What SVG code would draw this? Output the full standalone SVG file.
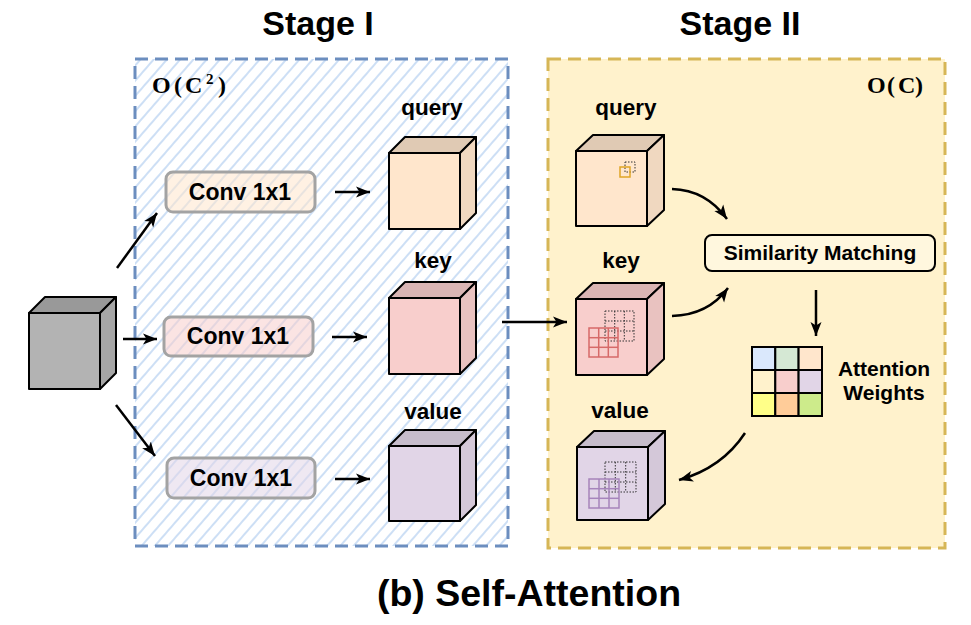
<svg xmlns="http://www.w3.org/2000/svg" width="971" height="625" viewBox="0 0 971 625">
<defs>
<pattern id="hatch" patternUnits="userSpaceOnUse" width="10" height="10" patternTransform="rotate(41)">
<line x1="5" y1="-1" x2="5" y2="11" stroke="#c8dcf4" stroke-width="1.8"/>
</pattern>
<marker id="arr" markerUnits="userSpaceOnUse" markerWidth="16" markerHeight="14" refX="14" refY="7" orient="auto">
<path d="M0,1.5 L14,7 L0,12.5 L3.5,7 Z" fill="#000"/>
</marker>
</defs>
<style>
.t{font-family:"Liberation Sans",Arial,sans-serif;font-weight:bold;fill:#000;text-anchor:middle}
.m{font-family:"Liberation Serif","Times New Roman",serif;font-weight:bold;fill:#000}
.cube{stroke:#000;stroke-width:2;stroke-linejoin:round}
.conv{stroke:#a3a3a3;stroke-width:3;fill-opacity:0.55}
.ln{fill:none;stroke:#000;stroke-width:2.5}
.dot{fill:none;stroke:#333;stroke-width:1;stroke-dasharray:1.5 1.5}
.ag{stroke:#000;stroke-width:2}
</style>

<!-- titles -->
<text class="t" x="318" y="35" font-size="34">Stage I</text>
<text class="t" x="740" y="35" font-size="34">Stage II</text>
<text class="t" x="529" y="606" font-size="37.5">(b) Self-Attention</text>

<!-- Stage I container -->
<g id="stage1">
<rect x="135" y="59" width="373" height="487" fill="#ffffff"/>
<rect x="135" y="59" width="373" height="487" fill="url(#hatch)"/>
<rect x="135" y="59" width="373" height="487" fill="none" stroke="#6c8ebf" stroke-width="3" stroke-dasharray="13 7"/>
<text class="m" font-size="24" y="93"><tspan x="152">O</tspan><tspan x="174">(</tspan><tspan x="185">C</tspan><tspan x="206" y="84" font-size="15">2</tspan><tspan x="218" y="93">)</tspan></text>
</g>

<!-- Stage II container -->
<g id="stage2">
<rect x="548" y="59" width="397" height="489" fill="#fff2cc" stroke="#d6b656" stroke-width="3" stroke-dasharray="13 7"/>
<text class="m" font-size="24" y="93"><tspan x="867">O</tspan><tspan x="887">(</tspan><tspan x="898">C</tspan><tspan x="915">)</tspan></text>
</g>

<!-- input cube -->
<g id="input">
<polygon class="cube" points="29,313 45,297 116,297 100,313" fill="#999999"/>
<polygon class="cube" points="100,313 116,297 116,373 100,389" fill="#a6a6a6"/>
<rect class="cube" x="29" y="313" width="71" height="76" fill="#b3b3b3"/>
</g>

<!-- conv boxes -->
<g id="conv1">
<rect class="conv" x="166" y="172" width="149" height="40" rx="7" fill="#ffe6cc"/>
<text class="t" x="240" y="200" font-size="23">Conv 1x1</text>
</g>
<g id="conv2">
<rect class="conv" x="164" y="317" width="149" height="39" rx="7" fill="#f8cecc"/>
<text class="t" x="238" y="344" font-size="23">Conv 1x1</text>
</g>
<g id="conv3">
<rect class="conv" x="167" y="458" width="148" height="40" rx="7" fill="#e1d5e7"/>
<text class="t" x="241" y="486" font-size="23">Conv 1x1</text>
</g>

<!-- stage I cubes -->
<g id="q1">
<text class="t" x="432" y="115" font-size="22.5">query</text>
<polygon class="cube" points="389,153 405,137 476,137 460,153" fill="#e0cab4"/>
<polygon class="cube" points="460,153 476,137 476,213 460,229" fill="#f0d8c0"/>
<rect class="cube" x="389" y="153" width="71" height="76" fill="#ffe6cc"/>
</g>
<g id="k1">
<text class="t" x="433" y="268" font-size="22.5">key</text>
<polygon class="cube" points="389,298 405,282 476,282 460,298" fill="#dab5b4"/>
<polygon class="cube" points="460,298 476,282 476,358 460,374" fill="#e9c2c0"/>
<rect class="cube" x="389" y="298" width="71" height="76" fill="#f8cecc"/>
</g>
<g id="v1">
<text class="t" x="433" y="419" font-size="22.5">value</text>
<polygon class="cube" points="389,446 405,430 476,430 460,446" fill="#c6bccb"/>
<polygon class="cube" points="460,446 476,430 476,505 460,521" fill="#d4c8d9"/>
<rect class="cube" x="389" y="446" width="71" height="75" fill="#e1d5e7"/>
</g>

<!-- stage II cubes -->
<g id="q2">
<text class="t" x="626" y="115" font-size="22.5">query</text>
<polygon class="cube" points="576,151 593,135 664,135 647,151" fill="#e0cab4"/>
<polygon class="cube" points="647,151 664,135 664,210 647,226" fill="#f0d8c0"/>
<rect class="cube" x="576" y="151" width="71" height="75" fill="#ffe6cc"/>
<rect class="dot" x="625" y="162" width="10" height="10"/>
<rect x="620" y="167" width="10" height="10" fill="none" stroke="#e0a526" stroke-width="1.5"/>
</g>
<g id="k2">
<text class="t" x="621" y="268" font-size="22.5">key</text>
<polygon class="cube" points="576,299 593,283 664,283 647,299" fill="#dab5b4"/>
<polygon class="cube" points="647,299 664,283 664,359 647,375" fill="#e9c2c0"/>
<rect class="cube" x="576" y="299" width="71" height="76" fill="#f8cecc"/>
<g class="dot">
<rect x="605" y="311" width="29" height="30"/>
<line x1="614.7" y1="311" x2="614.7" y2="341"/>
<line x1="624.3" y1="311" x2="624.3" y2="341"/>
<line x1="605" y1="321" x2="634" y2="321"/>
<line x1="605" y1="331" x2="634" y2="331"/>
</g>
<g fill="none" stroke="#d66a68" stroke-width="1.5">
<rect x="589" y="328" width="29" height="29"/>
<line x1="598.7" y1="328" x2="598.7" y2="357"/>
<line x1="608.3" y1="328" x2="608.3" y2="357"/>
<line x1="589" y1="337.7" x2="618" y2="337.7"/>
<line x1="589" y1="347.3" x2="618" y2="347.3"/>
</g>
</g>
<g id="v2">
<text class="t" x="620" y="418" font-size="22.5">value</text>
<polygon class="cube" points="577,447 594,431 665,431 648,447" fill="#c6bccb"/>
<polygon class="cube" points="648,447 665,431 665,504 648,520" fill="#d4c8d9"/>
<rect class="cube" x="577" y="447" width="71" height="73" fill="#e1d5e7"/>
<g class="dot">
<rect x="605" y="462" width="31" height="30"/>
<line x1="615.3" y1="462" x2="615.3" y2="492"/>
<line x1="625.7" y1="462" x2="625.7" y2="492"/>
<line x1="605" y1="472" x2="636" y2="472"/>
<line x1="605" y1="482" x2="636" y2="482"/>
</g>
<g fill="none" stroke="#a684bb" stroke-width="1.5">
<rect x="589" y="479" width="30" height="29"/>
<line x1="599" y1="479" x2="599" y2="508"/>
<line x1="609" y1="479" x2="609" y2="508"/>
<line x1="589" y1="488.7" x2="619" y2="488.7"/>
<line x1="589" y1="498.3" x2="619" y2="498.3"/>
</g>
</g>

<!-- similarity matching -->
<g id="sim">
<rect x="705" y="235" width="230" height="36" rx="7" fill="#fff7de" stroke="#000" stroke-width="2"/>
<text class="t" x="820" y="260" font-size="21">Similarity Matching</text>
</g>

<!-- attention weights -->
<g id="attn">
<rect class="ag" x="752" y="347" width="23.3" height="23" fill="#dae8fc"/>
<rect class="ag" x="775.3" y="347" width="23.3" height="23" fill="#d5e8d4"/>
<rect class="ag" x="798.6" y="347" width="23.4" height="23" fill="#ffe6cc"/>
<rect class="ag" x="752" y="370" width="23.3" height="23" fill="#fff2cc"/>
<rect class="ag" x="775.3" y="370" width="23.3" height="23" fill="#f8cecc"/>
<rect class="ag" x="798.6" y="370" width="23.4" height="23" fill="#e1d5e7"/>
<rect class="ag" x="752" y="393" width="23.3" height="23" fill="#ffff88"/>
<rect class="ag" x="775.3" y="393" width="23.3" height="23" fill="#ffcc99"/>
<rect class="ag" x="798.6" y="393" width="23.4" height="23" fill="#cdeb8b"/>
<text class="t" x="884" y="376" font-size="21">Attention</text>
<text class="t" x="884" y="400" font-size="21">Weights</text>
</g>

<!-- connectors -->
<g id="connectors">
<line class="ln" x1="117" y1="268" x2="157" y2="213" marker-end="url(#arr)"/>
<line class="ln" x1="123" y1="339" x2="157" y2="339" marker-end="url(#arr)"/>
<line class="ln" x1="116" y1="405" x2="155" y2="456" marker-end="url(#arr)"/>
<line class="ln" x1="335" y1="192" x2="370" y2="192" marker-end="url(#arr)"/>
<line class="ln" x1="332" y1="337" x2="367" y2="337" marker-end="url(#arr)"/>
<line class="ln" x1="335" y1="479" x2="370" y2="479" marker-end="url(#arr)"/>
<line class="ln" x1="502" y1="322" x2="567" y2="322" marker-end="url(#arr)"/>
<path class="ln" d="M672,189 Q706,190 727,219" marker-end="url(#arr)"/>
<path class="ln" d="M672,316 Q708,315 728,288" marker-end="url(#arr)"/>
<line class="ln" x1="816" y1="290" x2="816" y2="336" marker-end="url(#arr)"/>
<path class="ln" d="M745,433 Q722,468 679,480" marker-end="url(#arr)"/>
</g>
</svg>
